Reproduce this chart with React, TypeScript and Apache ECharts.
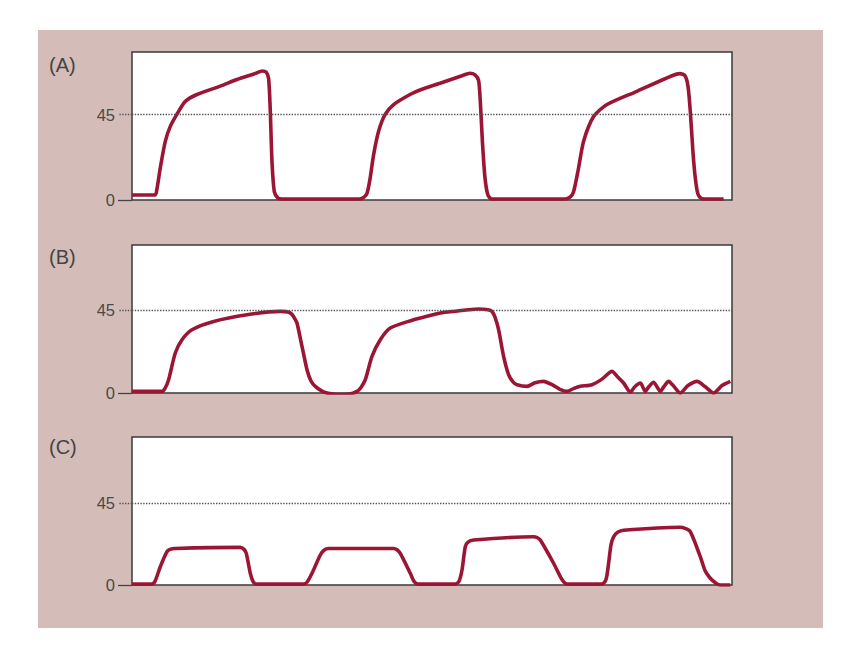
import React, { useEffect, useRef } from "react";
import * as echarts from "echarts";

// Trazos (x en px desde el borde izquierdo del gráfico, y en unidades del eje)
const xA = [0, 23, 25, 28.3, 33.3, 38.3, 46.6, 53.3, 65, 88.3, 105, 124, 130, 134, 136.6, 138.3, 140, 142.3, 146, 150, 228, 232, 235, 238, 241.6, 246.6, 253, 261.6, 278, 288, 308, 330, 338, 343, 346.6, 348.5, 350.5, 353, 356, 360, 433, 438, 441.6, 446.6, 451.6, 461.6, 475, 505, 540, 548, 553, 556, 558.3, 561, 563.3, 566, 570, 591.6];
const yA = [2.6, 2.6, 6, 17, 30.9, 38.8, 46.7, 52, 55.6, 60, 63.5, 66.8, 68, 67.5, 64, 46.7, 20, 4.4, 1, 0.5, 0.5, 1.5, 3.5, 11, 23.8, 36.2, 45, 50.3, 55.6, 58, 61.5, 65.5, 66.8, 66, 63, 50, 30, 11.6, 2.5, 0.5, 0.5, 1.5, 4.4, 17, 31, 44, 50.3, 57.3, 65.5, 66.6, 65.5, 60, 46.7, 25, 11.6, 3, 0.7, 0.5];

const xB = [0, 30, 33, 36.6, 43.3, 50, 60, 81.6, 115, 148.3, 156, 160, 163, 165, 170, 175, 179, 183.3, 190, 195, 208.3, 218, 225, 229, 233.3, 240, 248.3, 258.3, 281.6, 288.3, 308.3, 321.6, 346.6, 356, 360, 363, 366.6, 371.6, 376.6, 381, 385, 395, 403, 411.6, 420, 428, 435, 442, 448.3, 460, 470, 480, 486, 491.6, 498.3, 503, 508.3, 513.3, 517, 521.6, 528.3, 532, 536.6, 542, 548.3, 556, 565, 573, 581.6, 590, 598.3];
const yB = [0.9, 0.9, 2.5, 7.2, 21.6, 28.8, 34.2, 38.7, 42.3, 44.1, 43.8, 42.5, 40, 37.8, 25.2, 12.6, 6.5, 3.6, 1, 0, -0.9, -0.5, 0.9, 3, 7.2, 19.8, 28.8, 35.1, 39.6, 40.5, 43.2, 44.1, 45.4, 45, 44.1, 41, 34.2, 19.8, 9.9, 6, 4.5, 3.6, 5.5, 6.3, 4.5, 2, 0.9, 2.5, 3.6, 4.5, 7.5, 11.7, 8.5, 5.4, 0.5, 3.5, 5.4, 0.9, 3.5, 5.8, 0.9, 3.5, 6.3, 3.5, 0, 4, 6.3, 3.5, 0, 4, 6.3];

const xC = [0, 20, 23, 28.3, 35, 38, 43.3, 108.3, 112, 114.3, 118.3, 121, 124, 171.6, 175, 180, 188.3, 192, 196.6, 261.6, 265, 268.3, 278.3, 282, 286, 323.3, 327, 330, 333.3, 336, 341.6, 401.6, 405, 408.3, 421.6, 430, 435, 470, 474, 476.6, 479, 481.6, 486, 491.6, 548.3, 553, 558.3, 568.3, 573, 578.3, 584, 588.3, 598.3];
const yC = [0.5, 0.5, 2, 10, 18.2, 19.5, 20, 20.6, 19.5, 17.3, 6.4, 2, 0.5, 0.5, 1.5, 6.4, 16.4, 19, 20, 20, 19.3, 17.3, 6.4, 2, 0.5, 0.5, 2, 8.2, 21, 23.5, 24.6, 26.4, 26, 24.6, 11.9, 3, 0.5, 0.5, 3, 11.9, 22, 26.4, 29, 30, 31.6, 31, 29.2, 15.5, 8, 3.7, 1, 0, 0];

const panelLabels = ["(A)", "(B)", "(C)"];
const tickValues = [0, 45];
const refLevel = 45;
const yMax = [78, 80, 81];

const xs = [xA, xB, xC];
const ys = [yA, yB, yC];

const FONT = "Liberation Sans";
const RED = "#9b1634";

// posiciones de cada panel (px)
const grids = [
  { left: 132, right: 123, top: 52, height: 148 },
  { left: 132, right: 123, top: 245, height: 148 },
  { left: 132, right: 123, top: 437, height: 148 },
];
const labelTops = [55, 247, 437];

export default function App() {
  const chartRef = useRef<HTMLDivElement>(null);

  useEffect(() => {
    if (!chartRef.current) return;
    const chart = echarts.init(chartRef.current, undefined, { renderer: "svg" });

    const option: echarts.EChartsOption = {
      animation: false,
      backgroundColor: "#ffffff",
      graphic: [
        {
          type: "rect",
          z: -100,
          shape: { x: 38, y: 30, width: 785, height: 598 },
          style: { fill: "#d4bdb8" },
          silent: true,
        },
      ],
      title: panelLabels.map((t, i) => ({
        text: t,
        left: 49,
        top: labelTops[i],
        padding: 0,
        textStyle: { fontSize: 20, fontWeight: "normal", color: "#444", fontFamily: FONT },
      })),
      grid: grids.map((g) => ({
        ...g,
        show: true,
        backgroundColor: "#ffffff",
        borderColor: "#3a3a3a",
        borderWidth: 1.5,
        containLabel: false,
      })),
      xAxis: grids.map((_, i) => ({
        type: "value",
        gridIndex: i,
        min: 0,
        max: 600,
        show: false,
      })),
      yAxis: grids.flatMap((_, i) => [
        {
          type: "value",
          gridIndex: i,
          position: "left",
          min: 0,
          max: yMax[i],
          axisLine: { show: false },
          splitLine: { show: false },
          axisTick: {
            show: true,
            customValues: [0],
            length: 14,
            lineStyle: { color: "#444", width: 1.3 },
          },
          axisLabel: {
            customValues: tickValues,
            margin: 17,
            fontSize: 16.5,
            color: "#4a4a4a",
            fontFamily: FONT,
          },
        },
        {
          type: "value",
          gridIndex: i,
          position: "left",
          offset: 0,
          min: 0,
          max: yMax[i],
          axisLine: { show: false },
          splitLine: { show: false },
          axisLabel: { show: false },
          axisTick: {
            show: true,
            customValues: [refLevel],
            length: 14,
            lineStyle: { color: "#555", width: 1.4, type: [1.4, 1.4] },
          },
        },
      ]),
      series: grids.map((_, i) => ({
        type: "line",
        xAxisIndex: i,
        yAxisIndex: i * 2,
        data: xs[i].map((x, k) => [x, ys[i][k]]),
        showSymbol: false,
        smooth: 0.25,
        lineStyle: { color: RED, width: 3.6 },
        markLine: {
          silent: true,
          symbol: ["none", "none"],
          label: { show: false },
          lineStyle: { color: "#555", width: 1.4, type: [1.4, 1.4] },
          data: [{ yAxis: refLevel }],
        },
      })),
    };

    chart.setOption(option);
    return () => chart.dispose();
  }, []);

  return (
    <div
      ref={chartRef}
      style={{ position: "absolute", left: 0, top: 0, width: 855, height: 656 }}
    />
  );
}
